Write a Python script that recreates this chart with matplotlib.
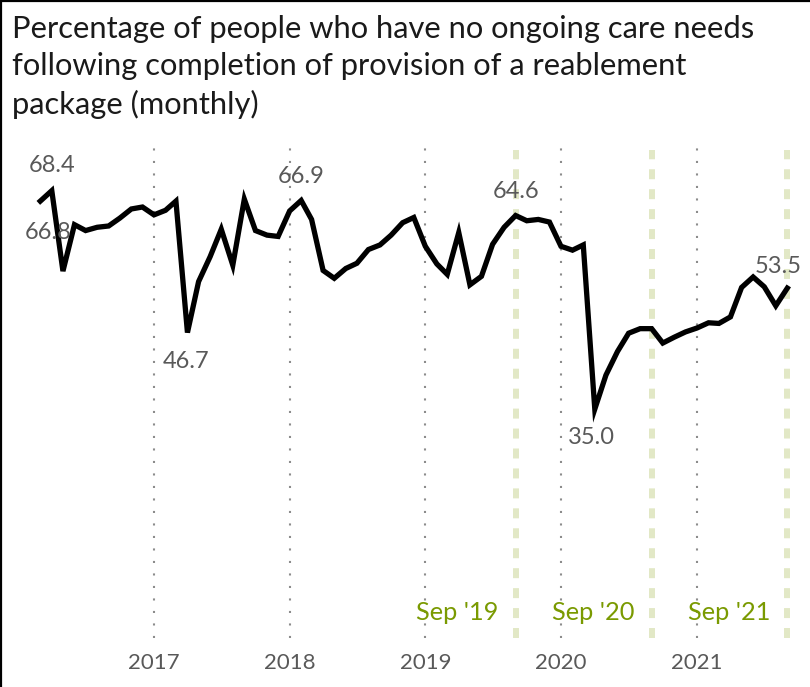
import matplotlib
matplotlib.use("Agg")
import matplotlib.pyplot as plt
import matplotlib.dates as mdates
import matplotlib.transforms as mtransforms
from matplotlib.lines import Line2D
import pandas as pd

plt.rcParams['font.family'] = ['Lato', 'DejaVu Sans']

title = ("Percentage of people who have no ongoing care needs\n"
         "following completion of provision of a reablement\n"
         "package (monthly)")

# monthly values, Mar 2016 .. Sep 2021
months = pd.date_range("2016-03-01", "2021-09-01", freq="MS")
values = [66.8, 68.4, 56.1, 63.2, 62.3, 62.8, 63.0, 64.2, 65.6, 65.9,
          64.7, 65.4, 66.8, 46.7, 54.5, 58.3, 62.5, 57.0, 67.1, 62.3, 61.6, 61.4,
          65.3, 66.9, 64.0, 56.2, 55.0, 56.5, 57.3, 59.4, 60.1, 61.6, 63.5, 64.3,
          59.9, 57.2, 55.6, 62.0, 54.0, 55.3, 60.2, 62.8, 64.6, 63.8, 64.0, 63.6,
          59.9, 59.3, 60.1, 35.0, 40.2, 43.8, 46.6, 47.3, 47.3, 45.1, 46.0, 46.8,
          47.4, 48.2, 48.1, 49.1, 53.6, 55.2, 53.7, 50.8, 53.5]

year_ticks = ["2017-01-01", "2018-01-01", "2019-01-01", "2020-01-01", "2021-01-01"]
year_labels = ["2017", "2018", "2019", "2020", "2021"]

marker_dates = ["2019-09-01", "2020-09-01", "2021-09-01"]
marker_labels = ["Sep '19", "Sep '20", "Sep '21"]

# labelled points: (date, text, offset in px)
point_labels = [("2016-04-01", "68.4", (0, 25)),
                ("2016-03-01", "66.8", (8, -31)),
                ("2017-04-01", "46.7", (-1, -29)),
                ("2018-02-01", "66.9", (0, 24)),
                ("2019-09-01", "64.6", (0, 24)),
                ("2020-04-01", "35.0", (-3, -28)),
                ("2021-09-01", "53.5", (-9, 22))]

grey = "#595959"
green = "#7a9a01"
pale = "#e2e8c6"

W, H = 810, 687
fig = plt.figure(figsize=(W / 100, H / 100), dpi=100)
ax = fig.add_axes([20 / W, (H - 638) / H, 780 / W, 490.5 / H])

d2017 = mdates.date2num(pd.Timestamp("2017-01-01"))
px_per_day = 135.75 / 365.25
ax.set_xlim(d2017 - 134 / px_per_day, d2017 + 646 / px_per_day)
ax.set_ylim(0, 75)

for d in year_ticks:
    ax.axvline(pd.Timestamp(d), color="#8c8c8c", lw=1.5, linestyle=(0, (1, 5)), zorder=1)

for d in marker_dates:
    ax.axvline(pd.Timestamp(d), color=pale, lw=4.3, linestyle=(0, (1.67, 1.67)),
               ymax=0.995, zorder=1)

ax.plot(months, values, color="black", lw=3.8, solid_joinstyle="miter", zorder=3)

vals = dict(zip(months, values))
for d, txt, (dx, dy) in point_labels:
    ts = pd.Timestamp(d)
    ax.annotate(txt, (ts, vals[ts]), xytext=(dx * 0.72, dy * 0.72),
                textcoords="offset points", ha="center", va="center",
                fontsize=17, color=grey, zorder=4)

trans = mtransforms.blended_transform_factory(ax.transData, ax.transAxes)
offs = mtransforms.ScaledTranslation(-17 / 100, 0, fig.dpi_scale_trans)
for d, txt in zip(marker_dates, marker_labels):
    ax.text(pd.Timestamp(d), 0.053, txt, transform=trans + offs, ha="right",
            va="center", fontsize=18.3, color=green)

ax.set_xticks([pd.Timestamp(d) for d in year_ticks])
ax.set_xticklabels(year_labels)
ax.tick_params(axis="x", length=0, pad=11, labelsize=16, labelcolor=grey)
ax.set_yticks([])
for s in ax.spines.values():
    s.set_visible(False)

t = fig.text(12 / W, 1 - 15 / H, title, ha="left", va="top", fontsize=20,
             color="#1a1a1a", linespacing=1.4)
fig.canvas.draw()
w = t.get_window_extent().width
t.set_fontsize(20 * 745 / w)

fig.add_artist(Line2D([0, 1], [1 - 1 / H, 1 - 1 / H], color="black", lw=1.6))
fig.add_artist(Line2D([1 / W, 1 / W], [0, 1], color="black", lw=1.6))

fig.savefig("out.png", dpi=100)
